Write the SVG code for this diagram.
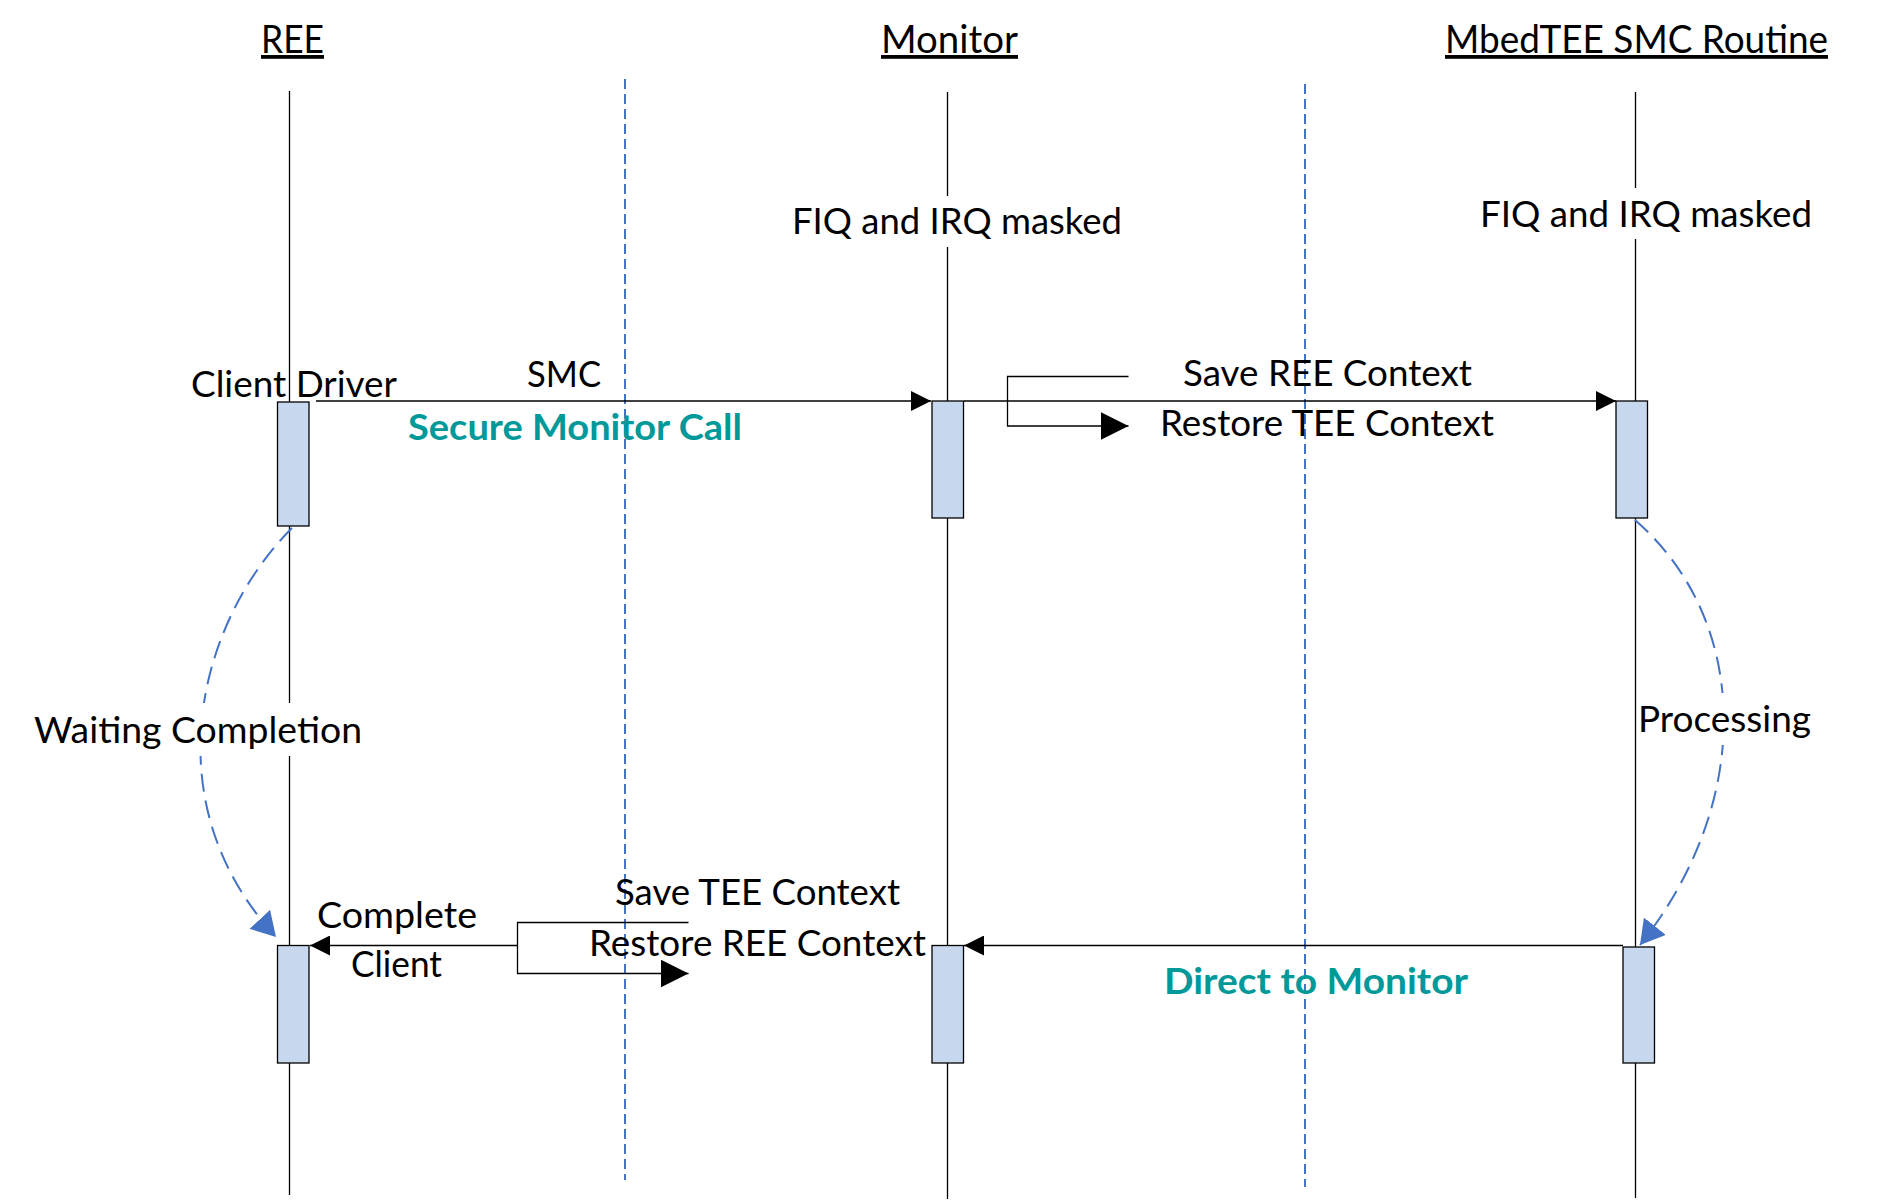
<svg xmlns="http://www.w3.org/2000/svg" width="1884" height="1204" viewBox="0 0 1884 1204">
  <style>
    text { font-family: Lato, "Liberation Sans", Arial, sans-serif; fill: #000; }
    .title { font-size: 38px; text-decoration: underline; }
    .lbl { font-size: 36px; }
    .teal { font-size: 36px; font-weight: bold; fill: #009999; }
    .life { stroke: #000; stroke-width: 1.3; fill: none; }
    .act { fill: #C6D7EE; stroke: #000; stroke-width: 1.3; }
    .msg { stroke: #000; stroke-width: 1.3; fill: none; }
    .div { stroke: #4472C4; stroke-width: 2; stroke-dasharray: 10 5; fill: none; }
    .flow { stroke: #4472C4; stroke-width: 2; stroke-dasharray: 18 9; fill: none; }
    .bg { fill: #fff; }
  </style>
  <defs>
    <marker id="arrS" markerUnits="userSpaceOnUse" viewBox="0 0 20 20" markerWidth="20" markerHeight="20" refX="20" refY="10" orient="auto">
      <path d="M0,0 L20,10 L0,20 z" fill="#000"/>
    </marker>
    <marker id="arrL" markerUnits="userSpaceOnUse" viewBox="0 0 28 28" markerWidth="28" markerHeight="28" refX="28" refY="14" orient="auto">
      <path d="M0,0 L28,14 L0,28 z" fill="#000"/>
    </marker>
    <marker id="arrB" markerUnits="userSpaceOnUse" viewBox="0 0 24 28" markerWidth="24" markerHeight="28" refX="24" refY="14" orient="auto">
      <path d="M0,0 L24,14 L0,28 z" fill="#4472C4"/>
    </marker>
  </defs>

  <!-- domain dividers -->
  <g id="dividers">
    <line class="div" x1="625" y1="79" x2="625" y2="1180"/>
    <line class="div" x1="1305" y1="84" x2="1305" y2="1187"/>
  </g>

  <!-- lifelines -->
  <g id="lifeline-ree">
    <text class="title" x="261" y="53" textLength="63" lengthAdjust="spacingAndGlyphs">REE</text>
    <line class="life" x1="289.5" y1="91" x2="289.5" y2="1195"/>
  </g>
  <g id="lifeline-monitor">
    <text class="title" x="881" y="53" textLength="137" lengthAdjust="spacingAndGlyphs">Monitor</text>
    <line class="life" x1="947.5" y1="92" x2="947.5" y2="1199"/>
    <rect class="bg" x="788" y="196" width="338" height="51"/>
    <text class="lbl" x="792" y="234" textLength="330" lengthAdjust="spacingAndGlyphs">FIQ and IRQ masked</text>
  </g>
  <g id="lifeline-mbedtee">
    <text class="title" x="1445" y="53" textLength="383" lengthAdjust="spacingAndGlyphs">MbedTEE SMC Routine</text>
    <line class="life" x1="1635.5" y1="92" x2="1635.5" y2="1198"/>
    <rect class="bg" x="1476" y="188" width="340" height="51"/>
    <text class="lbl" x="1480" y="227" textLength="332" lengthAdjust="spacingAndGlyphs">FIQ and IRQ masked</text>
  </g>

  <!-- connectors -->
  <g id="connectors">
    <line class="msg" x1="316" y1="401" x2="931" y2="401" marker-end="url(#arrS)"/>
    <line class="msg" x1="964" y1="401" x2="1616" y2="401" marker-end="url(#arrS)"/>
    <path class="msg" d="M1128.5,376.5 H1007.5 V426 H1128.5" marker-end="url(#arrL)"/>
    <line class="msg" x1="1623" y1="945.5" x2="964" y2="945.5" marker-end="url(#arrS)"/>
    <path class="msg" d="M688.5,922.5 H517.5 V973.5 H688.5" marker-end="url(#arrL)"/>
    <line class="msg" x1="517.5" y1="945.5" x2="310" y2="945.5" marker-end="url(#arrS)"/>
    <path class="flow" d="M292,528 C200,620 150,800 276,937" marker-end="url(#arrB)"/>
    <path class="flow" d="M1635,520 C1750,620 1755,800 1640,945" marker-end="url(#arrB)"/>
  </g>

  <!-- labels -->
  <g id="labels">
    <text class="lbl" x="191" y="397" textLength="206" lengthAdjust="spacingAndGlyphs">Client Driver</text>
    <text class="lbl" x="527" y="387" textLength="74" lengthAdjust="spacingAndGlyphs">SMC</text>
    <text class="teal" x="408" y="440" textLength="334" lengthAdjust="spacingAndGlyphs">Secure Monitor Call</text>
    <text class="lbl" x="1183" y="386" textLength="289" lengthAdjust="spacingAndGlyphs">Save REE Context</text>
    <text class="lbl" x="1160" y="436" textLength="334" lengthAdjust="spacingAndGlyphs">Restore TEE Context</text>
    <rect class="bg" x="30" y="703" width="336" height="53"/>
    <text class="lbl" x="34" y="743" textLength="328" lengthAdjust="spacingAndGlyphs">Waiting Completion</text>
    <rect class="bg" x="1638" y="693" width="178" height="52"/>
    <text class="lbl" x="1638" y="732" textLength="173" lengthAdjust="spacingAndGlyphs">Processing</text>
    <text class="lbl" x="317" y="928" textLength="160" lengthAdjust="spacingAndGlyphs">Complete</text>
    <text class="lbl" x="351" y="977" textLength="91" lengthAdjust="spacingAndGlyphs">Client</text>
    <text class="lbl" x="615" y="905" textLength="285" lengthAdjust="spacingAndGlyphs">Save TEE Context</text>
    <text class="lbl" x="589" y="956" textLength="337" lengthAdjust="spacingAndGlyphs">Restore REE Context</text>
    <text class="teal" x="1164" y="994" textLength="304" lengthAdjust="spacingAndGlyphs">Direct  to Monitor</text>
  </g>

  <!-- activation boxes -->
  <g id="act-ree-1"><rect class="act" x="277.5" y="402" width="31.5" height="124"/></g>
  <g id="act-monitor-1"><rect class="act" x="932" y="401" width="31.5" height="117"/></g>
  <g id="act-mbedtee-1"><rect class="act" x="1616" y="401" width="31.5" height="117"/></g>
  <g id="act-ree-2"><rect class="act" x="277.5" y="945.5" width="31.5" height="117.5"/></g>
  <g id="act-monitor-2"><rect class="act" x="932" y="945.5" width="31.5" height="117.5"/></g>
  <g id="act-mbedtee-2"><rect class="act" x="1623" y="947" width="31.5" height="116"/></g>
</svg>
